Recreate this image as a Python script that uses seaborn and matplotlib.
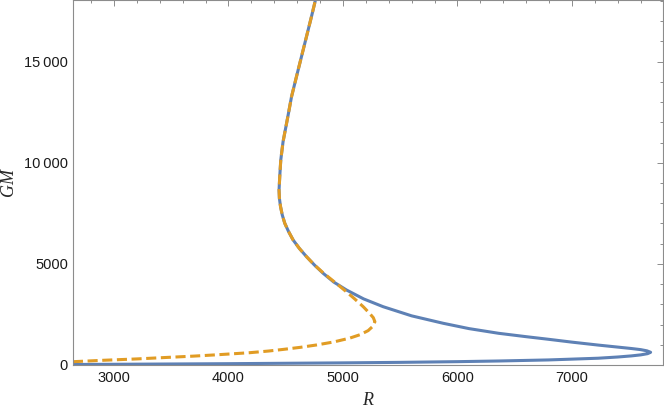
import numpy as np
import pandas as pd
import seaborn as sns
import matplotlib.pyplot as plt
from matplotlib.ticker import MultipleLocator, FuncFormatter

# blue curve (R, GM), traced along the path from bottom-left
blue_R = [2640, 3000, 3500, 4000, 4500, 5000, 5500, 6000, 6360, 6794, 7000,
          7229, 7400, 7519, 7600, 7660, 7687, 7655, 7600, 7519, 7400, 7229,
          7000, 6794, 6600, 6359, 6100, 5876, 5600, 5351, 5180, 5031, 4920,
          4827, 4750, 4682, 4620, 4565, 4525, 4492, 4470, 4455, 4445, 4442,
          4448, 4457, 4477, 4516, 4551, 4594, 4667, 4725, 4760]
blue_GM = [25, 35, 50, 65, 85, 105, 130, 165, 198, 250, 290,
           335, 395, 450, 500, 560, 628, 700, 760, 815, 885, 985,
           1130, 1272, 1400, 1568, 1800, 2062, 2430, 2883, 3270, 3709, 4100,
           4535, 4950, 5356, 5760, 6182, 6600, 7008, 7420, 7829, 8240, 8655,
           9313, 10138, 11044, 12200, 13269, 14258, 15910, 17226, 18052]

# orange dashed curve (R, GM)
orange_R = [2642, 2904, 3200, 3487, 3700, 3900, 4186, 4350, 4477, 4630,
            4769, 4920, 5060, 5150, 5220, 5262, 5279, 5265, 5230, 5177,
            5100, 5030, 4960, 4890, 4827, 4750, 4682, 4620, 4565, 4525,
            4492, 4470, 4455, 4445, 4442, 4448, 4457, 4477, 4516, 4551,
            4594, 4667, 4725, 4760]
orange_GM = [163, 232, 300, 381, 440, 505, 608, 690, 770, 875,
             990, 1140, 1330, 1500, 1700, 1920, 2141, 2340, 2570, 2883,
             3280, 3620, 3950, 4270, 4560, 4950, 5356, 5760, 6182, 6600,
             7008, 7420, 7829, 8240, 8655, 9313, 10138, 11044, 12200, 13269,
             14258, 15910, 17226, 18052]

blue_df = pd.DataFrame({'R': blue_R, 'GM': blue_GM})
orange_df = pd.DataFrame({'R': orange_R, 'GM': orange_GM})

sns.set_style('white')
plt.rcParams['font.family'] = ['Liberation Sans', 'DejaVu Sans']

fig = plt.figure(figsize=(6.64, 4.15), dpi=100)
ax = fig.add_axes([0.1095, 0.1205, 0.889, 0.8795])

sns.lineplot(data=blue_df, x='R', y='GM', ax=ax, sort=False, estimator=None,
             color='#5E81B5', linewidth=2.2, solid_capstyle='round',
             solid_joinstyle='round')
sns.lineplot(data=orange_df, x='R', y='GM', ax=ax, sort=False, estimator=None,
             color='#E19C24', linewidth=2.2, linestyle=(0, (3.3, 1.5)))

ax.set_xlim(2640, 7795)
ax.set_ylim(0, 18050)

# frame ticks like Mathematica
frame_col = '#8c8c8c'
for s in ax.spines.values():
    s.set_color(frame_col)
    s.set_linewidth(0.8)
ax.xaxis.set_major_locator(MultipleLocator(1000))
ax.xaxis.set_minor_locator(MultipleLocator(200))
ax.yaxis.set_major_locator(MultipleLocator(5000))
ax.yaxis.set_minor_locator(MultipleLocator(1000))
ax.tick_params(which='both', direction='in', top=True, right=True,
               color=frame_col, width=0.7, labelcolor='#1a1a1a', labelsize=10.5)
ax.tick_params(which='major', length=4.1)
ax.tick_params(which='minor', length=2.4)
ax.tick_params(axis='x', pad=4)
ax.tick_params(axis='y', pad=3.4)


def fmt(v, pos):
    v = int(round(v))
    if v >= 10000:
        return f'{v // 1000}\u2009{v % 1000:03d}'
    return str(v)


ax.yaxis.set_major_formatter(FuncFormatter(fmt))

# 軸ラベル
ax.set_xlabel('R', fontsize=13, family=['Liberation Serif'], style='italic')
ax.set_ylabel('GM', fontsize=13, family=['Liberation Serif'], style='italic')
ax.xaxis.set_label_coords(0.5, -0.075)
ax.yaxis.set_label_coords(-0.094, 0.5)

fig.savefig('out.png', dpi=100)
